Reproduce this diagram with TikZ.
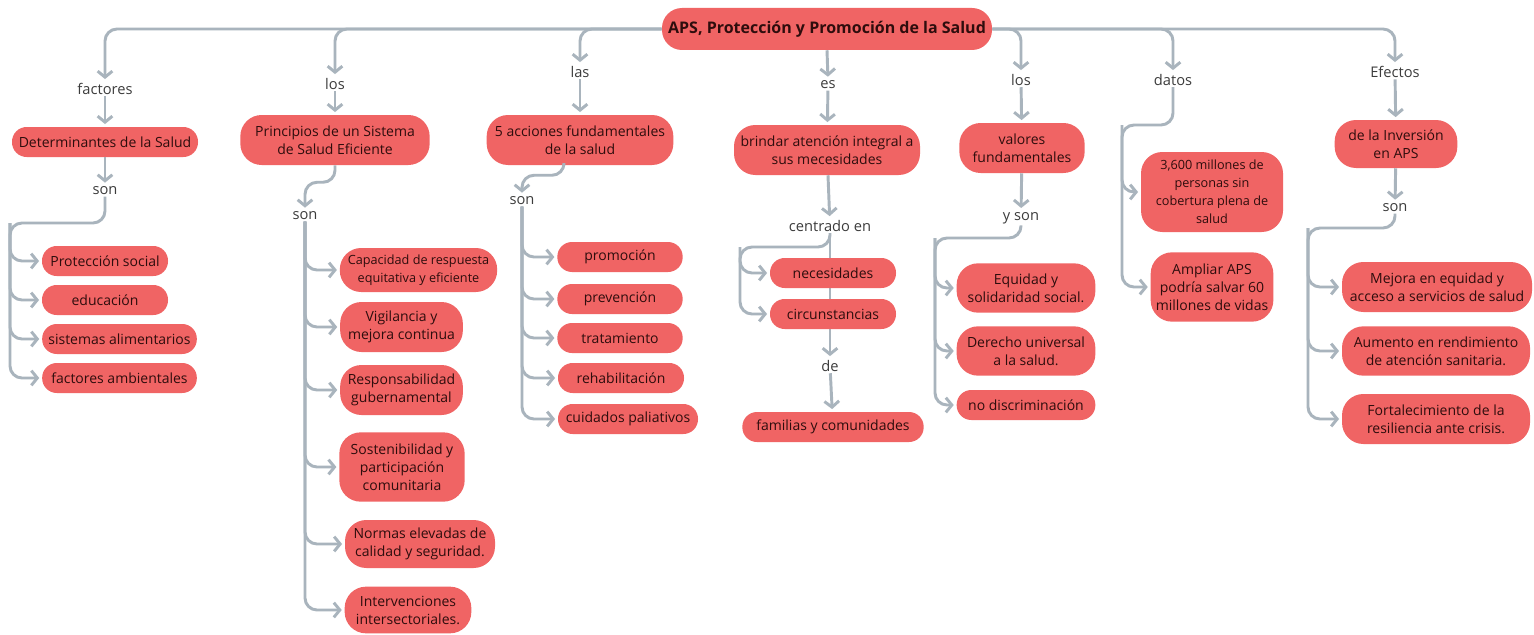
\documentclass[tikz,border=0pt]{standalone}
\usepackage{fontspec}
\setmainfont{Open Sans}
\usepackage{tikz}
\usetikzlibrary{arrows.meta,positioning,backgrounds}
\definecolor{nodered}{HTML}{F06464}
\definecolor{nodetext}{HTML}{2E0D0D}
\definecolor{linkgray}{HTML}{A9B4BD}
\definecolor{wordgray}{HTML}{3C3C3C}

\begin{document}
\begin{tikzpicture}[
    x=0.75pt, y=-0.75pt,
    >={Straight Barb[length=4.5pt,width=11pt]},
    font=\fontsize{10.5}{13.5}\selectfont,
    concept/.style={
		rectangle,
		rounded corners=11pt,
		fill=nodered,
		text=nodetext,
		align=center,
		inner sep=1pt,
		minimum height=22.5pt
	},
	tall/.style={
		concept,
		rounded corners=16pt
	},
	small/.style={
		font=\fontsize{9.5}{13.5}\selectfont
	},
	word/.style={
		text=wordgray,
		font=\fontsize{11}{13}\selectfont,
		inner sep=1pt
	},
	link/.style={
		draw=linkgray,
		line width=2.2pt,
		rounded corners=9pt,
		->,
		shorten >=2pt
	}
  ]
\useasboundingbox (0,0) rectangle (1534,635);
\begin{scope}[on background layer]
\fill [white] (0,0) rectangle (1534,635);
\end{scope}

 \node [concept, rounded corners=15pt, minimum width=247.5pt, minimum height=31.5pt,
        font=\fontsize{12}{14}\selectfont\bfseries] (root) at (827,29)
 {APS, Protección y Promoción de la Salud};

% // connecting words
 \node [word] (factores) at (105,89)  {factores};
 \node [word] (los1)     at (335,84)  {los};
 \node [word] (las)      at (580,72)  {las};
 \node [word] (es)       at (828,85)  {es};
 \node [word] (los2)     at (1021,80) {los};
 \node [word] (datos)    at (1173,80) {datos};
 \node [word] (efectos)  at (1395,72) {Efectos};

 \draw [link] (root.west) -| (factores.north);
 \draw [link] (root.west) -| (los1.north);
 \draw [link] (root.west) -| (las.north);
 \draw [link] (root.south) -- (es.north);
 \draw [link] (root.east) -| (los2.north);
 \draw [link] (root.east) -| (datos.north);
 \draw [link] (root.east) -| (efectos.north);

% // determinantes
 \node [concept, minimum width=139.5pt] (determ) at (105,142) {Determinantes de la Salud};
 \node [word] (son1) at (105,191) {son};
 \node [concept, minimum width=94.5pt] (proteccion) at (105,261) {Protección social};
 \node [concept, minimum width=94.5pt] (educacion)  at (105,300) {educación};
 \node [concept, minimum width=116pt] (sistemas)    at (119.5,339) {sistemas alimentarios};
 \node [concept, minimum width=116pt] (ambientales) at (119.5,378) {factores ambientales};
 \coordinate (fork1) at (10,223);

 \draw [link] (factores) -- (determ);
 \draw [link] (determ) -- (son1);
 \draw [link] (son1.south) |- (fork1) |- (ambientales.west);
 \draw [link] (fork1) |- (proteccion.west);
 \draw [link] (fork1) |- (educacion.west);
 \draw [link] (fork1) |- (sistemas.west);

% // principios
 \node [tall, minimum width=142pt, minimum height=37.5pt] (principios) at (335,140)
 {Principios de un Sistema\\de Salud Eficiente};
 \node [word] (son2) at (305,216) {son};
 \node [tall, small, minimum width=118pt, minimum height=33pt] (capacidad) at (418.5,270)
 {Capacidad de respuesta\\equitativa y eficiente};
 \node [tall, minimum width=92pt, minimum height=37.5pt] (vigilancia) at (401.5,327)
 {Vigilancia y\\mejora continua};
 \node [tall, minimum width=92pt, minimum height=37.5pt] (responsab) at (401.5,390)
 {Responsabilidad\\gubernamental};
 \node [tall, minimum width=94pt, minimum height=52pt] (sostenib) at (402,467)
 {Sostenibilidad y\\participación\\comunitaria};
 \node [tall, minimum width=112.5pt, minimum height=36pt] (normas) at (420,544)
 {Normas elevadas de\\calidad y seguridad.};
 \node [tall, minimum width=95pt, minimum height=35pt] (interv) at (408,610)
 {Intervenciones\\intersectoriales.};

 \draw [link] (los1) -- (principios);
 \draw [link] (principios.south) -- ++(0,17) -| (son2.north);
 \draw [link] (son2.south) |- (interv.west);
 \draw [link] (son2.south) |- (capacidad.west);
 \draw [link] (son2.south) |- (vigilancia.west);
 \draw [link] (son2.south) |- (responsab.west);
 \draw [link] (son2.south) |- (sostenib.west);
 \draw [link] (son2.south) |- (normas.west);

% // acciones
 \node [tall, minimum width=140pt, minimum height=37.5pt] (acciones) at (580,140)
 {5 acciones fundamentales\\de la salud};
 \node [word] (son3) at (522,201) {son};
 \node [concept, minimum width=94pt] (promocion)  at (620,257) {promoción};
 \node [concept, minimum width=94pt] (prevencion) at (620,299) {prevención};
 \node [concept, minimum width=94pt] (tratam)     at (620,338) {tratamiento};
 \node [concept, minimum width=94.5pt] (rehab)    at (621,378) {rehabilitación};
 \node [concept, minimum width=105pt] (cuidados)  at (628,419) {cuidados paliativos};

 \draw [link] (las) -- (acciones);
 \draw [link] ([xshift=-12pt]acciones.south) -- ++(0,10) -| (son3.north);
 \draw [link] (son3.south) |- (cuidados.west);
 \draw [link] (son3.south) |- (promocion.west);
 \draw [link] (son3.south) |- (prevencion.west);
 \draw [link] (son3.south) |- (tratam.west);
 \draw [link] (son3.south) |- (rehab.west);

% // atencion integral
 \node [tall, minimum width=139.5pt, minimum height=37.5pt] (brindar) at (827,150)
 {brindar atención integral a\\sus mecesidades};
 \node [word] (centrado) at (830,226) {centrado en};
 \node [concept, minimum width=94.5pt] (necesid)  at (833,273) {necesidades};
 \node [concept, minimum width=94.5pt] (circunst) at (833,314) {circunstancias};
 \node [word] (de) at (830,366) {de};
 \node [concept, minimum width=136pt] (familias) at (833,427) {familias y comunidades};
 \coordinate (fork4) at (740,247);

 \draw [link] (es) -- (brindar);
 \draw [link] (brindar) -- (centrado);
 \draw [link] (centrado.south) |- (fork4) |- (circunst.west);
 \draw [link] (fork4) |- (necesid.west);
 \begin{scope}[on background layer]
 \draw [link] (centrado.south) -- (de.north);
 \end{scope}
 \draw [link] (de) -- (familias);

% // valores
 \node [tall, minimum width=94pt, minimum height=37.5pt] (valores) at (1022,148)
 {valores\\fundamentales};
 \node [word] (yson) at (1021,218) {y son};
 \node [tall, minimum width=104pt, minimum height=37pt] (equidad) at (1026,288)
 {Equidad y\\solidaridad social.};
 \node [tall, minimum width=104pt, minimum height=37pt] (derecho) at (1026,351)
 {Derecho universal\\a la salud.};
 \node [concept, minimum width=104pt] (nodiscr) at (1026,405) {no discriminación};
 \coordinate (fork5) at (935,238);

 \draw [link] (los2) -- (valores);
 \draw [link] (valores) -- (yson);
 \draw [link] (yson.south) |- (fork5) |- (nodiscr.west);
 \draw [link] (fork5) |- (equidad.west);
 \draw [link] (fork5) |- (derecho.west);

% // datos
 \node [tall, small, minimum width=106.5pt, minimum height=60pt] (dato1) at (1212,192)
 {3,600 millones de\\personas sin\\cobertura plena de\\salud};
 \node [tall, minimum width=92pt, minimum height=52pt] (dato2) at (1212,287)
 {Ampliar APS\\podría salvar 60\\millones de vidas};
 \coordinate (fork6) at (1122,125);

 \draw [link] (datos.south) |- (fork6) |- (dato2.west);
 \draw [link] (fork6) |- (dato1.west);

% // efectos
 \node [tall, minimum width=92pt, minimum height=36pt] (inversion) at (1396,144)
 {de la Inversión\\en APS};
 \node [word] (son7) at (1395,208) {son};
 \node [tall, minimum width=142.5pt, minimum height=37.5pt] (mejora) at (1437,287)
 {Mejora en equidad y\\acceso a servicios de salud};
 \node [tall, minimum width=141pt, minimum height=37pt] (aumento) at (1436,351)
 {Aumento en rendimiento\\de atención sanitaria.};
 \node [tall, minimum width=141pt, minimum height=37.5pt] (fortal) at (1436,419)
 {Fortalecimiento de la\\resiliencia ante crisis.};
 \coordinate (fork7) at (1308,228);

 \draw [link] (efectos) -- (inversion);
 \draw [link] (inversion) -- (son7);
 \draw [link] (son7.south) |- (fork7) |- (fortal.west);
 \draw [link] (fork7) |- (mejora.west);
 \draw [link] (fork7) |- (aumento.west);

\end{tikzpicture}
\end{document}
